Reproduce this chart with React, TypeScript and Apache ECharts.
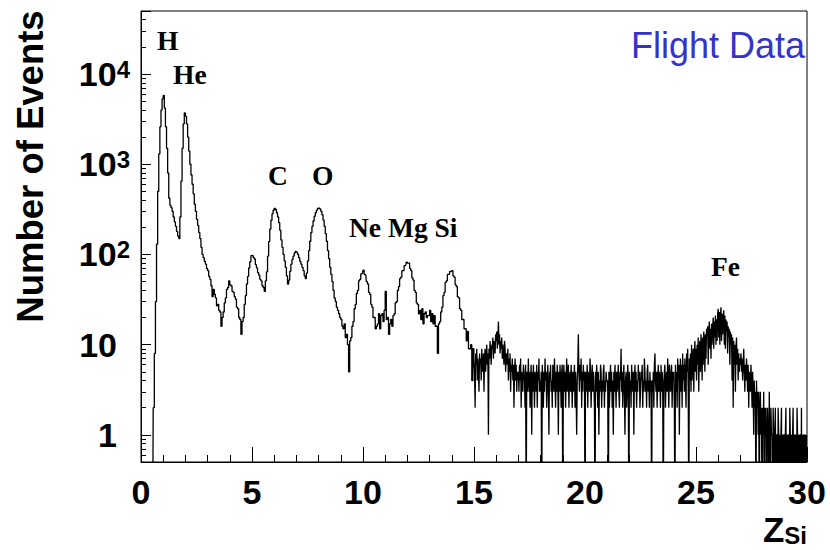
import React, { useEffect, useRef } from 'react';
import * as echarts from 'echarts';

// ---- data -------------------------------------------------------------
const Z_MIN = 0;
const Z_MAX = 30;
const Y_MIN = 0.5;
const Y_MAX = 50000;
const ZERO_FLOOR = 0.1; // empty bins are drawn down past the axis floor

// Z_Si 0 .. 15, bin width 0.05 (20 bins per unit of Z)
const COARSE_START = 0;
const COARSE_BIN = 0.05;
const countsLow: number[] = [
  0, 0, 0, 0, 0, 0, 0, 0, 0, 0, 0, 2, 8, 30, 130, 500, 1300, 2600, 4000, 5300,
  5800, 4200, 2600, 1500, 800, 420, 350, 330, 300, 260, 230, 205, 180, 160, 150, 260, 650, 1500, 2800, 3700,
  3400, 2800, 2000, 1400, 1000, 760, 600, 470, 360, 300, 245, 210, 175, 150, 120, 100, 92, 84, 78, 70,
  66, 57, 53, 45, 34, 41, 36, 33, 27, 28, 24, 23, 16, 20, 23, 29, 33, 41, 43, 51,
  46, 45, 39, 38, 34, 32, 26, 25, 20, 19, 13, 18, 20, 28, 35, 47, 57, 71, 83, 97,
  98, 93, 89, 77, 71, 63, 59, 53, 51, 45, 43, 39, 51, 64, 96, 139, 191, 239, 281, 309,
  325, 315, 290, 260, 225, 185, 145, 120, 100, 85, 72, 58, 47, 52, 65, 78, 88, 96, 104, 108,
  106, 100, 92, 84, 78, 72, 66, 58, 54, 62, 85, 110, 140, 175, 205, 235, 265, 290, 310, 325,
  330, 320, 300, 275, 240, 205, 170, 140, 110, 90, 72, 60, 50, 40, 33, 30, 26, 24, 22, 20,
  19, 16, 15, 17, 12, 13, 10, 5, 11, 12, 16, 18, 25, 28, 37, 40, 51, 53, 61, 62,
  67, 60, 59, 50, 47, 38, 36, 28, 26, 20, 20, 15, 16, 17, 22, 15, 21, 22, 18, 24,
  39, 19, 20, 13, 17, 19, 16, 21, 22, 29, 30, 40, 44, 54, 56, 66, 66, 75, 76, 82,
  80, 80, 70, 66, 55, 52, 40, 38, 29, 28, 22, 24, 19, 25, 17, 22, 23, 20, 21, 21,
  24, 18, 22, 17, 21, 16, 16, 8, 17, 18, 23, 26, 35, 38, 49, 51, 60, 60, 65, 64,
  66, 58, 56, 46, 44, 34, 33, 25, 24, 19, 19, 15, 15, 11, 14, 9, 9, 10, 4, 9,
];

// Z_Si 15 .. 30, bin width 0.025 (40 bins per unit of Z)
const FINE_START = 15;
const FINE_BIN = 0.025;
const countsHigh: number[] = [
  7, 5, 2, 8, 6, 9, 4, 7, 5, 3, 8, 6, 7, 4, 9, 5, 6, 8, 3, 7, 9, 5, 7, 10, 6, 8, 1, 9, 7, 11, 8, 6, 10, 9, 12, 7, 11, 9, 8, 13,
  11, 14, 9, 12, 18, 10, 13, 8, 11, 9, 12, 7, 10, 8, 6, 11, 9, 5, 8, 7, 6, 9, 4, 7, 5, 8, 3, 6, 5, 7, 4, 6, 2, 5, 7, 4, 6, 3, 5, 4,
  5, 3, 6, 4, 7, 2, 5, 4, 3, 6, 5, 4, 2, 6, 0, 5, 3, 4, 7, 3, 5, 2, 4, 6, 1, 5, 3, 6, 4, 2, 5, 4, 3, 6, 2, 5, 4, 7, 3, 4,
  3, 5, 0, 6, 4, 2, 5, 3, 7, 4, 5, 2, 4, 6, 3, 1, 5, 4, 6, 3, 4, 2, 6, 5, 3, 7, 4, 2, 5, 3, 6, 4, 1, 5, 3, 6, 4, 2, 5, 6,
  0, 4, 6, 3, 5, 2, 4, 7, 3, 5, 6, 2, 4, 5, 3, 6, 4, 2, 5, 3, 4, 6, 2, 5, 3, 1, 4, 6, 13, 5, 3, 6, 4, 7, 2, 5, 3, 6, 4, 5,
  0, 5, 3, 4, 6, 2, 5, 4, 3, 7, 5, 2, 4, 6, 3, 5, 4, 2, 0, 5, 3, 6, 4, 2, 5, 1, 4, 3, 6, 5, 2, 4, 3, 5, 6, 2, 4, 3, 5, 4,
  4, 3, 0, 5, 2, 4, 6, 3, 5, 2, 4, 1, 5, 3, 6, 4, 2, 5, 3, 4, 6, 3, 2, 5, 4, 9, 3, 5, 2, 4, 6, 3, 1, 4, 5, 2, 3, 6, 4, 0,
  5, 3, 4, 2, 6, 4, 3, 5, 1, 4, 6, 3, 5, 2, 4, 3, 6, 4, 5, 2, 3, 5, 4, 6, 2, 4, 3, 7, 5, 3, 4, 2, 5, 6, 3, 4, 2, 5, 3, 4,
  0, 4, 3, 5, 2, 6, 8, 4, 3, 5, 2, 4, 6, 3, 5, 4, 2, 6, 3, 5, 4, 0, 3, 5, 6, 2, 4, 5, 3, 7, 4, 2, 6, 5, 3, 4, 6, 2, 5, 4,
  5, 2, 0, 6, 3, 5, 2, 7, 4, 6, 1, 5, 7, 3, 6, 2, 8, 4, 6, 3, 7, 4, 2, 8, 5, 9, 3, 0, 7, 4, 8, 3, 10, 4, 7, 9, 3, 8, 11, 5,
  9, 4, 10, 6, 12, 3, 9, 11, 5, 13, 10, 4, 12, 6, 14, 11, 5, 13, 7, 15, 12, 16, 6, 14, 18, 9, 15, 7, 17, 10, 16, 20, 9, 18, 12, 21, 10, 19, 11, 22,
  25, 12, 23, 10, 21, 26, 11, 22, 13, 20, 24, 10, 21, 9, 19, 14, 18, 8, 16, 12, 15, 6, 14, 10, 13, 4, 12, 2, 11, 6, 10, 3, 9, 12, 6, 9, 4, 8, 5, 7,
  6, 8, 5, 7, 4, 6, 9, 5, 3, 6, 4, 7, 5, 3, 6, 2, 5, 4, 3, 6, 4, 2, 5, 3, 1, 4, 2, 3, 0, 4, 2, 3, 1, 3, 0, 2, 3, 1, 2, 0,
  2, 1, 3, 0, 2, 1, 2, 0, 1, 2, 1, 0, 3, 1, 0, 2, 1, 1, 0, 2, 1, 0, 1, 2, 0, 1, 1, 0, 2, 1, 0, 1, 0, 1, 2, 0, 1, 0, 1, 1,
  0, 1, 2, 0, 1, 0, 1, 1, 0, 2, 1, 0, 1, 0, 1, 2, 0, 1, 1, 0, 1, 0, 2, 1, 0, 1, 0, 1, 1, 0, 2, 0, 1, 0, 1, 1, 0, 1, 0, 1,
];

const yDecadeExponents = [-1, 0, 1, 2, 3, 4];
const yMinorMultipliers = [2, 3, 4, 5, 6, 7, 8, 9];
const elementLabels = ['H', 'He', 'C', 'O', 'Ne Mg Si', 'Fe'];
const titleText = 'Flight Data';
const yAxisTitle = 'Number of Events';
const xAxisTitleMain = 'Z';
const xAxisTitleSub = 'Si';

// ---- chart ------------------------------------------------------------
const FONT_SANS = '"Liberation Sans", Arial, Helvetica, sans-serif';
const FONT_SERIF = '"Liberation Serif", "Times New Roman", serif';

function binPoints(counts: number[], start: number, width: number): number[][] {
  return counts.map((c, i) => [start + (i + 0.5) * width, c > 0 ? c : ZERO_FLOOR]);
}

function buildOption(): any {
  const seriesData = [
    ...binPoints(countsLow, COARSE_START, COARSE_BIN),
    ...binPoints(countsHigh, FINE_START, FINE_BIN),
  ];

  const minorTickValues: number[] = [];
  yDecadeExponents.forEach((e) => {
    yMinorMultipliers.forEach((m) => {
      const v = m * Math.pow(10, e);
      if (v > Y_MIN * 1.0001 && v < Y_MAX * 0.9999) minorTickValues.push(v);
    });
  });

  const labelLayout: Record<string, [number, number]> = {
    H: [157, 40],
    He: [173, 74.5],
    C: [268, 175],
    O: [312, 175],
    'Ne Mg Si': [349, 227.5],
    Fe: [711, 266],
  };

  const labelGraphics = elementLabels.map((name) => ({
    type: 'text',
    x: labelLayout[name][0],
    y: labelLayout[name][1],
    silent: true,
    style: {
      text: name,
      fontFamily: FONT_SERIF,
      fontWeight: 'bold',
      fontSize: 27.5,
      fill: '#000',
      align: 'left',
      verticalAlign: 'middle',
    },
  }));

  return {
    animation: false,
    backgroundColor: '#fff',
    grid: {
      left: 141,
      right: 23,
      top: 11,
      bottom: 88,
      show: true,
      borderColor: '#000',
      borderWidth: 1,
      backgroundColor: 'transparent',
    },
    xAxis: {
      type: 'value',
      min: Z_MIN,
      max: Z_MAX,
      interval: 5,
      axisLine: { show: true, lineStyle: { color: '#000', width: 1 } },
      axisTick: { show: true, inside: true, length: 15, lineStyle: { color: '#000', width: 1 } },
      minorTick: { show: true, splitNumber: 5, length: 7, lineStyle: { color: '#000', width: 1 } },
      splitLine: { show: false },
      minorSplitLine: { show: false },
      axisLabel: {
        color: '#000',
        fontSize: 34,
        fontWeight: 'bold',
        fontFamily: FONT_SANS,
        margin: 13,
      },
    },
    yAxis: [
      {
        type: 'log',
        logBase: 10,
        min: Y_MIN,
        max: Y_MAX,
        position: 'left',
        offset: 0,
        axisLine: { show: true, lineStyle: { color: '#000', width: 1 } },
        axisTick: { show: true, inside: true, length: 10, lineStyle: { color: '#000', width: 1 } },
        splitLine: { show: false },
        axisLabel: {
          margin: 11,
          formatter: (v: number) => {
            const e = Math.round(Math.log10(v));
            const p = Math.pow(10, e);
            if (Math.abs(v - p) > 1e-6 * p) return '';
            if (e === 0) return '{b|1}{p| }';
            if (e === 1) return '{b|10}{p| }';
            return `{b|10}{s|${e}}`;
          },
          rich: {
            b: {
              fontSize: 34,
              fontWeight: 'bold',
              fontFamily: FONT_SANS,
              color: '#000',
              lineHeight: 34,
              verticalAlign: 'middle',
            },
            s: {
              fontSize: 24,
              fontWeight: 'bold',
              fontFamily: FONT_SANS,
              color: '#000',
              lineHeight: 24,
              padding: [0, 0, 30, 0],
              verticalAlign: 'top',
            },
            p: { width: 13, fontSize: 24, lineHeight: 24 },
          },
        },
      },
      {
        type: 'log',
        logBase: 10,
        min: Y_MIN,
        max: Y_MAX,
        position: 'left',
        offset: 0,
        axisLine: { show: false },
        axisLabel: { show: false },
        splitLine: { show: false },
        axisTick: {
          show: true,
          inside: true,
          length: 5,
          customValues: minorTickValues,
          lineStyle: { color: '#000', width: 1 },
        },
      },
    ],
    series: [
      {
        type: 'line',
        xAxisIndex: 0,
        yAxisIndex: 0,
        step: 'middle',
        symbol: 'none',
        showSymbol: false,
        clip: true,
        data: seriesData,
        lineStyle: { color: '#000', width: 1.3 },
        silent: true,
      },
    ],
    graphic: [
      ...labelGraphics,
      {
        type: 'text',
        x: 805,
        y: 45,
        silent: true,
        style: {
          text: titleText,
          fontFamily: FONT_SANS,
          fontSize: 36,
          fill: '#3434c8',
          align: 'right',
          verticalAlign: 'middle',
        },
      },
      {
        type: 'text',
        x: 30,
        y: 166.5,
        rotation: Math.PI / 2,
        silent: true,
        style: {
          text: yAxisTitle,
          fontFamily: FONT_SANS,
          fontWeight: 'bold',
          fontSize: 36.5,
          fill: '#000',
          align: 'center',
          verticalAlign: 'middle',
        },
      },
      {
        type: 'text',
        x: 807,
        y: 533,
        silent: true,
        style: {
          text: `{z|${xAxisTitleMain}}{s|${xAxisTitleSub}}`,
          align: 'right',
          verticalAlign: 'middle',
          rich: {
            z: {
              fontFamily: FONT_SANS,
              fontWeight: 'bold',
              fontSize: 35,
              lineHeight: 28,
              fill: '#000',
              verticalAlign: 'bottom',
            },
            s: {
              fontFamily: FONT_SANS,
              fontWeight: 'bold',
              fontSize: 24,
              lineHeight: 20,
              fill: '#000',
              verticalAlign: 'bottom',
            },
          },
        },
      },
    ],
  };
}

export default function App() {
  const ref = useRef<HTMLDivElement>(null);
  useEffect(() => {
    if (!ref.current) return;
    const chart = echarts.init(ref.current, null, { renderer: 'svg' });
    chart.setOption(buildOption());
    return () => chart.dispose();
  }, []);
  return (
    <div
      ref={ref}
      style={{ position: 'fixed', left: 0, top: 0, width: 830, height: 550, background: '#fff' }}
    />
  );
}
